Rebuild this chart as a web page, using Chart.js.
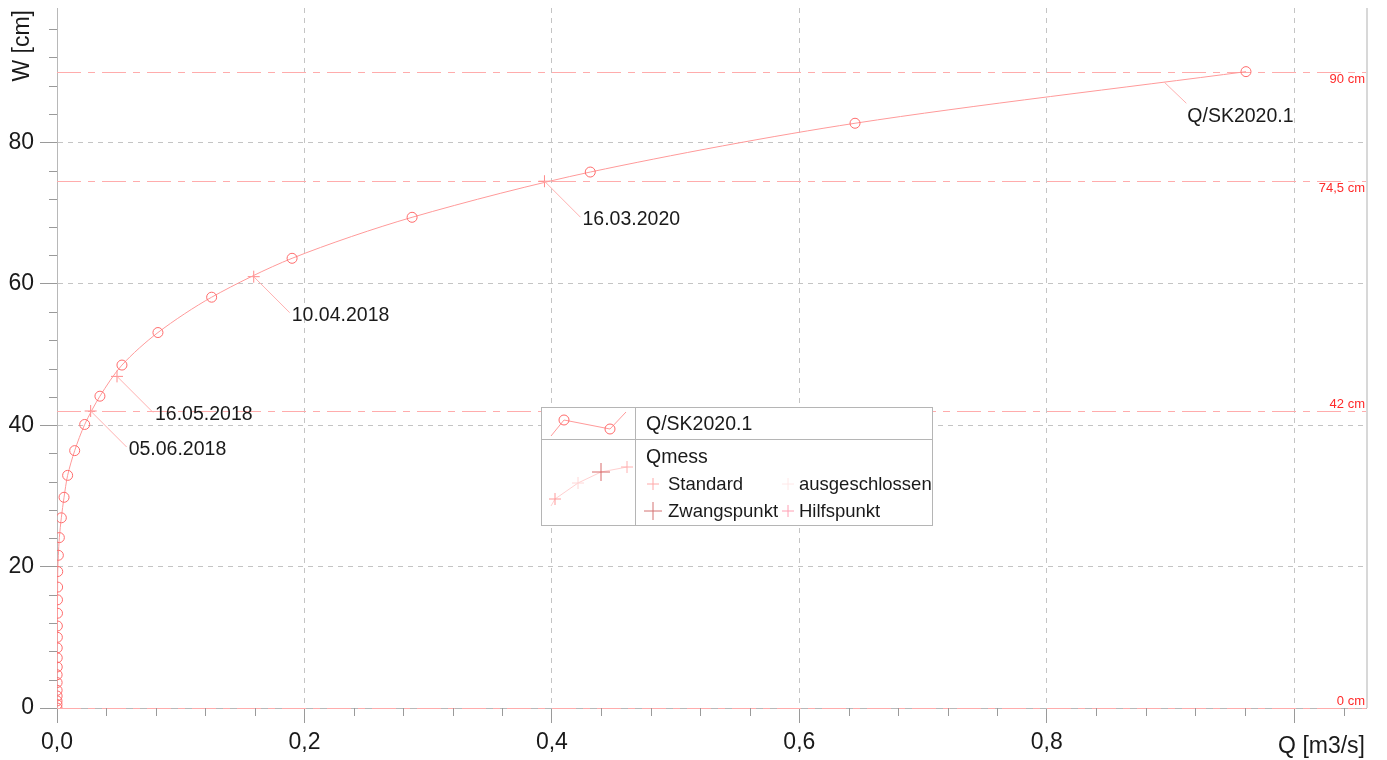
<!DOCTYPE html>
<html>
<head>
<meta charset="utf-8">
<script src="https://cdn.jsdelivr.net/npm/chart.js@4.4.0/dist/chart.umd.min.js"></script>
<style>
html, body { margin:0; padding:0; background:#fff; }
#box { width:1387px; height:760px; }
</style>
</head>
<body>
<div id="box"><canvas id="graph"></canvas></div>
<script>
// Schluesselkurve Q/SK2020.1 (W in cm, Q in m3/s)
var kurveName = 'Q/SK2020.1';
var kurveW = [0, 0.5, 1.0, 1.7, 2.5, 3.6, 4.7, 5.8, 7.1, 8.5, 10.0, 11.6, 13.4, 15.3, 17.1, 19.3, 21.6, 24.1, 26.9, 29.8, 32.9, 36.4, 40.1, 44.1, 48.5, 53.1, 58.1, 63.6, 69.4, 75.8, 82.7, 90.0];
var kurveQ = [0, 0, 0, 0.0001, 0.0001, 0.0001, 0.0001, 0.0002, 0.0002, 0.0002, 0.0003, 0.0003, 0.0004, 0.0004, 0.0005, 0.0006, 0.0011, 0.0019, 0.0035, 0.0057, 0.0086, 0.0143, 0.0224, 0.0347, 0.0525, 0.0816, 0.125, 0.190, 0.287, 0.431, 0.645, 0.961];
var kurveLabelQ = 0.895;
var kurveLabelW = 88.5;

// Messungen Qmess
var messDatum = ['05.06.2018', '16.05.2018', '10.04.2018', '16.03.2020'];
var messW = [42.0, 46.9, 61.0, 74.5];
var messQ = [0.0272, 0.0485, 0.159, 0.394];

// Grenzwerte
var grenzW = [90, 74.5, 42, 0];
var grenzText = ['90 cm', '74,5 cm', '42 cm', '0 cm'];

// Achsen
var xTicks = [0, 0.2, 0.4, 0.6, 0.8, 1.0];
var xTickText = ['0,0', '0,2', '0,4', '0,6', '0,8', ''];
var yTicks = [0, 20, 40, 60, 80];
var yTickText = ['0', '20', '40', '60', '80'];

var legendeNamen = ['Standard', 'ausgeschlossen', 'Zwangspunkt', 'Hilfspunkt'];

var police = '"Liberation Sans", Arial, sans-serif';

function plus(ctx, x, y, h, couleur) {
    ctx.strokeStyle = couleur;
    ctx.lineWidth = 1;
    ctx.beginPath();
    ctx.moveTo(x - h, y); ctx.lineTo(x + h, y);
    ctx.moveTo(x, y - h); ctx.lineTo(x, y + h);
    ctx.stroke();
}

var dessins = {
    id: 'dessins',
    beforeDatasetsDraw: function(chart) {
        var ctx = chart.ctx, a = chart.chartArea, sy = chart.scales.y;
        ctx.save();
        // lignes des seuils
        ctx.strokeStyle = '#ffacac';
        ctx.lineWidth = 1;
        ctx.setLineDash([24, 7, 7, 7]);
        for (var i = 0; i < grenzW.length; i++) {
            var y = Math.round(sy.getPixelForValue(grenzW[i])) + 0.5;
            ctx.beginPath();
            ctx.moveTo(a.left, y); ctx.lineTo(a.right, y);
            ctx.stroke();
        }
        ctx.setLineDash([]);
        ctx.fillStyle = '#ff2a2a';
        ctx.font = '13px ' + police;
        ctx.textAlign = 'right';
        for (var i = 0; i < grenzW.length; i++) {
            var y = sy.getPixelForValue(grenzW[i]);
            ctx.fillText(grenzText[i], a.right - 1, grenzW[i] > 60 ? y + 11 : y - 3);
        }
        ctx.restore();
    },
    afterDraw: function(chart) {
        var ctx = chart.ctx, a = chart.chartArea, sx = chart.scales.x, sy = chart.scales.y;
        ctx.save();

        // petites graduations
        ctx.strokeStyle = '#9a9a9a';
        ctx.lineWidth = 1;
        ctx.beginPath();
        for (var v = 0.04; v < 1.06; v += 0.04) {
            if (Math.abs(v / 0.2 - Math.round(v / 0.2)) < 0.01) continue;
            var x = Math.round(sx.getPixelForValue(v)) + 0.5;
            ctx.moveTo(x, a.bottom); ctx.lineTo(x, a.bottom + 8);
        }
        for (var w = 4; w < 99; w += 4) {
            if (w % 20 == 0) continue;
            var y = Math.round(sy.getPixelForValue(w)) + 0.5;
            ctx.moveTo(a.left - 8, y); ctx.lineTo(a.left, y);
        }
        ctx.stroke();

        // bord droit
        ctx.strokeStyle = '#d8d8d8';
        ctx.lineWidth = 2;
        ctx.beginPath();
        ctx.moveTo(a.right + 1, a.top); ctx.lineTo(a.right + 1, a.bottom);
        ctx.stroke();

        // etiquettes des mesures
        ctx.font = '19.5px ' + police;
        ctx.textAlign = 'left';
        ctx.lineWidth = 1;
        for (var i = 0; i < messDatum.length; i++) {
            var px = sx.getPixelForValue(messQ[i]);
            var py = sy.getPixelForValue(messW[i]);
            ctx.strokeStyle = '#ffb0b0';
            ctx.beginPath();
            ctx.moveTo(px, py); ctx.lineTo(px + 36, py + 36);
            ctx.stroke();
            ctx.fillStyle = '#1a1a1a';
            ctx.fillText(messDatum[i], px + 38, py + 44);
        }
        var kx = sx.getPixelForValue(kurveLabelQ);
        var ky = sy.getPixelForValue(kurveLabelW);
        ctx.strokeStyle = '#ffb0b0';
        ctx.beginPath();
        ctx.moveTo(kx, ky); ctx.lineTo(kx + 22, ky + 21);
        ctx.stroke();
        ctx.fillStyle = '#1a1a1a';
        ctx.fillText(kurveName, kx + 23, ky + 40);

        // titres des axes
        ctx.font = '23px ' + police;
        ctx.fillStyle = '#1a1a1a';
        ctx.textAlign = 'right';
        ctx.fillText('Q [m3/s]', a.right - 1, 753);
        ctx.save();
        ctx.translate(29, 10);
        ctx.rotate(-Math.PI / 2);
        ctx.textAlign = 'right';
        ctx.fillText('W [cm]', 0, 0);
        ctx.restore();

        // legende
        var L = 541.5, T = 407.5, R = 932.5, B = 525.5;
        ctx.fillStyle = '#fff';
        ctx.fillRect(L, T, R - L, B - T);
        ctx.strokeStyle = '#b5b5b5';
        ctx.lineWidth = 1;
        ctx.strokeRect(L, T, R - L, B - T);
        ctx.beginPath();
        ctx.moveTo(635.5, T); ctx.lineTo(635.5, B);
        ctx.moveTo(L, 439.5); ctx.lineTo(R, 439.5);
        ctx.stroke();

        ctx.strokeStyle = '#ff9a9a';
        ctx.beginPath();
        ctx.moveTo(551, 436); ctx.lineTo(564, 420); ctx.lineTo(610, 429); ctx.lineTo(626, 412);
        ctx.stroke();
        ctx.strokeStyle = '#ff6b6b';
        ctx.beginPath(); ctx.arc(564, 420, 5, 0, Math.PI * 2); ctx.stroke();
        ctx.beginPath(); ctx.arc(610, 429, 5, 0, Math.PI * 2); ctx.stroke();

        ctx.strokeStyle = '#ffd0d0';
        ctx.beginPath();
        ctx.moveTo(551, 506); ctx.lineTo(555, 499); ctx.lineTo(578, 483); ctx.lineTo(601, 472); ctx.lineTo(627, 467);
        ctx.stroke();
        plus(ctx, 555, 499, 6, '#ff9a9a');
        plus(ctx, 578, 483, 6, '#ffd6d6');
        plus(ctx, 601, 472, 9, '#d86a6a');
        plus(ctx, 627, 467, 6, '#ffb0b0');

        plus(ctx, 653, 484, 6, '#ffa8a8');
        plus(ctx, 788, 484, 6, '#ffe8e8');
        plus(ctx, 653, 511, 9, '#d47272');
        plus(ctx, 788, 511, 6, '#ffa0b4');

        ctx.fillStyle = '#1a1a1a';
        ctx.textAlign = 'left';
        ctx.font = '19.5px ' + police;
        ctx.fillText(kurveName, 646, 430);
        ctx.fillText('Qmess', 646, 463);
        ctx.font = '18.5px ' + police;
        ctx.fillText(legendeNamen[0], 668, 490);
        ctx.fillText(legendeNamen[1], 799, 490);
        ctx.fillText(legendeNamen[2], 668, 517);
        ctx.fillText(legendeNamen[3], 799, 517);

        ctx.restore();
    }
};

var kurvePoints = [];
for (var i = 0; i < kurveW.length; i++) kurvePoints.push({x: kurveQ[i], y: kurveW[i]});
var messPoints = [];
for (var i = 0; i < messW.length; i++) messPoints.push({x: messQ[i], y: messW[i]});

var graph = new Chart(document.getElementById('graph'), {
    type: 'scatter',
    data: {
        datasets: [
            {
                label: kurveName,
                data: kurvePoints,
                showLine: true,
                tension: 0.3,
                borderColor: '#ff9a9a',
                borderWidth: 1,
                pointStyle: 'circle',
                pointRadius: 5,
                pointBorderColor: '#ff6b6b',
                pointBackgroundColor: 'rgba(0,0,0,0)',
                pointBorderWidth: 1
            },
            {
                label: 'Qmess',
                data: messPoints,
                showLine: false,
                pointStyle: 'cross',
                pointRadius: 6,
                pointBorderColor: '#ff8a8a',
                pointBorderWidth: 1
            }
        ]
    },
    options: {
        responsive: true,
        maintainAspectRatio: false,
        animation: false,
        layout: { padding: { top: 8, right: 21, left: 0, bottom: 0 } },
        plugins: { legend: { display: false }, tooltip: { enabled: false } },
        scales: {
            x: {
                type: 'linear',
                min: 0,
                max: 1.058,
                afterBuildTicks: function(s) { s.ticks = xTicks.map(function(v) { return {value: v}; }); },
                afterFit: function(s) { s.height = 52; s.paddingLeft = 0; s.paddingRight = 0; },
                ticks: {
                    callback: function(v, i) { return xTickText[i]; },
                    font: { family: police, size: 23 },
                    color: '#1a1a1a',
                    padding: 6,
                    maxRotation: 0
                },
                grid: { color: '#c4c4c4', tickColor: '#9a9a9a', tickLength: 15, lineWidth: 1 },
                border: { color: '#b8b8b8', dash: [5, 5] }
            },
            y: {
                type: 'linear',
                min: 0,
                max: 99,
                afterBuildTicks: function(s) { s.ticks = yTicks.map(function(v) { return {value: v}; }); },
                afterFit: function(s) { s.width = 57; s.paddingTop = 0; s.paddingBottom = 0; },
                ticks: {
                    callback: function(v, i) { return yTickText[i]; },
                    font: { family: police, size: 23 },
                    color: '#1a1a1a',
                    padding: 6
                },
                grid: { color: '#c4c4c4', tickColor: '#9a9a9a', tickLength: 17, lineWidth: 1 },
                border: { color: '#b8b8b8', dash: [5, 5] }
            }
        }
    },
    plugins: [dessins]
});
</script>
</body>
</html>
